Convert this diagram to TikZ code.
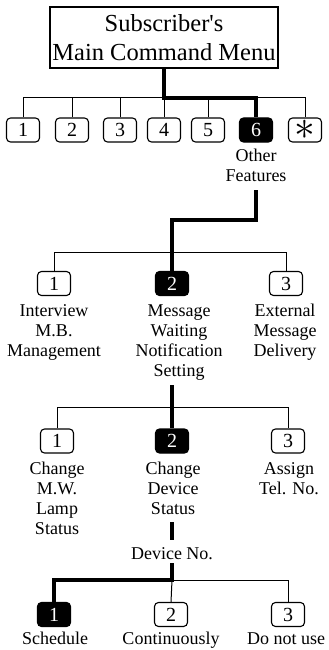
\documentclass[tikz,border=0pt]{standalone}
\usepackage{fontspec}
\setmainfont{Liberation Serif}
\begin{document}
\begin{tikzpicture}[x=1pt,y=-1pt,
  numbox/.style={draw, line width=1.1pt, rounded corners=4pt, minimum width=33pt, minimum height=24pt, inner sep=0pt, font=\fontsize{20}{22}\selectfont},
  selbox/.style={numbox, fill=black, text=white},
  lab/.style={align=center, inner sep=0pt, anchor=base, font=\fontsize{18}{20}\selectfont},
  thin/.style={line width=1pt},
  thick/.style={line width=4pt}
]
\useasboundingbox (0,0) rectangle (329,650);
% top box
\node[draw, line width=1.1pt, minimum width=228pt, minimum height=61pt, inner sep=0pt, align=center, font=\fontsize{24.5}{28.5}\selectfont] (top) at (164,37.5) {Subscriber\textquotesingle s\\Main Command Menu};
% row 1
\node[numbox] (a1) at (23,130) {1};
\node[numbox] (a2) at (72,130) {2};
\node[numbox] (a3) at (120,130) {3};
\node[numbox] (a4) at (164,130) {4};
\node[numbox] (a5) at (208,130) {5};
\node[selbox] (a6) at (256,130) {6};
\node[numbox] (a7) at (305,130) {\raisebox{-4pt}{\scalebox{2}{$\ast$}}};
\node[lab] (la6) at (256,181) {Other\\Features};
\coordinate (j1) at (164,98);
\coordinate (bl1) at (23,98);
\coordinate (br1) at (305,98);
\draw[thin] (a1.north) -- (bl1) -- (br1) -- (a7.north);
\foreach \n in {a2,a3,a4,a5} \draw[thin] (\n.north) -- (\n.north |- j1);
\draw[thick] (top.south) -- (j1) -| (a6.north);
% row 2
\node[numbox] (b1) at (54,283.5) {1};
\node[selbox] (b2) at (172,283.5) {2};
\node[numbox] (b3) at (286,283.5) {3};
\node[lab] (lb1) at (54,356) {Interview\\M.B.\\Management};
\node[lab] (lb2) at (179,376) {Message\\Waiting\\Notification\\Setting};
\node[lab] (lb3) at (285,356) {External\\Message\\Delivery};
\coordinate (s2) at (256,190);
\coordinate (k2) at (256,220);
\coordinate (bl2) at (54,252);
\coordinate (br2) at (286,252);
\draw[thin] (b1.north) -- (bl2) -- (br2) -- (b3.north);
\draw[thick] (s2) -- (k2) -| (b2.north);
% row 3
\node[numbox] (c1) at (57,441) {1};
\node[selbox] (c2) at (172,441) {2};
\node[numbox] (c3) at (288,441) {3};
\node[lab] (lc1) at (57,534) {Change\\M.W.\\Lamp\\Status};
\node[lab] (lc2) at (173,514) {Change\\Device\\Status};
\node[lab] (lc3) at (289,494) {Assign\\Tel. No.};
\coordinate (s3) at (172,385);
\coordinate (bl3) at (57,407);
\coordinate (br3) at (288,407);
\draw[thin] (c1.north) -- (bl3) -- (br3) -- (c3.north);
\draw[thick] (s3) -- (c2.north);
% device no
\coordinate (s4) at (172,522);
\node[lab] (dev) at (172,559) {Device No.};
\coordinate (e4) at (172,540);
\draw[thick] (s4) -- (e4);
% row 4
\node[selbox] (d1) at (54,614.5) {1};
\node[numbox] (d2) at (171,614.5) {2};
\node[numbox] (d3) at (288,614.5) {3};
\node[lab] (ld1) at (55,644) {Schedule};
\node[lab] (ld2) at (171,644) {Continuously};
\node[lab] (ld3) at (286,644) {Do not use};
\coordinate (s5) at (172,563);
\coordinate (j5) at (172,580);
\coordinate (br5) at (288,580);
\draw[thin] (j5) -- (br5) -- (d3.north);
\draw[thin] (j5) -- (d2.north);
\draw[thick] (s5) -- (j5) -| (d1.north);
\end{tikzpicture}
\end{document}
